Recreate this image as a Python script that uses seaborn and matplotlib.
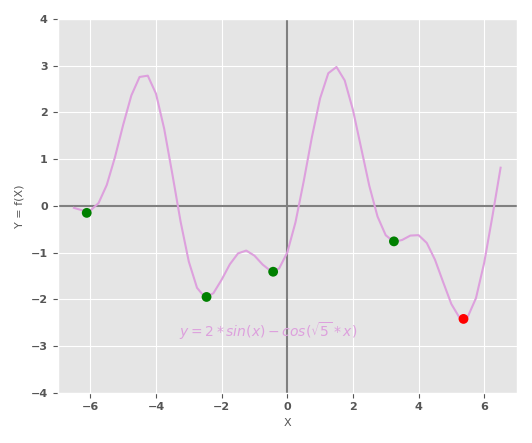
import numpy as np
import matplotlib
matplotlib.use('Agg')
import matplotlib.pyplot as plt
import seaborn as sns

# curve samples of y = 2*sin(x) - cos(sqrt(5)*x), read at 0.25 steps
x_vals = np.arange(-6.5, 6.51, 0.25)
y_vals = [-0.043, -0.095, -0.101, 0.059, 0.447, 1.041, 1.734, 2.365, 2.759, 2.787,
          2.401, 1.650, 0.674, -0.339, -1.193, -1.754, -1.966, -1.869, -1.581, -1.251,
          -1.017, -0.957, -1.066, -1.257, -1.396, -1.343, -1.000, -0.353, 0.522, 1.469,
          2.300, 2.839, 2.973, 2.685, 2.057, 1.243, 0.428, -0.228, -0.629, -0.771,
          -0.730, -0.636, -0.627, -0.793, -1.151, -1.633, -2.102, -2.395, -2.375, -1.975,
          -1.219, -0.227, 0.817]

# local minima
min_x = [-6.11, -2.46, -0.43, 3.25]
min_y = [-0.15, -1.95, -1.41, -0.76]
best_x = [5.37]
best_y = [-2.42]

plt.style.use('ggplot')
fig, ax = plt.subplots(figsize=(5.32, 4.43), dpi=100)

ax.axhline(0, color='gray', lw=1.5)
ax.axvline(0, color='gray', lw=1.5)
sns.lineplot(x=x_vals, y=y_vals, color='plum', lw=1.5, ax=ax)
sns.scatterplot(x=min_x, y=min_y, color='green', s=50, edgecolor='none', zorder=5, ax=ax)
sns.scatterplot(x=best_x, y=best_y, color='red', s=50, edgecolor='none', zorder=5, ax=ax)

ax.text(-3.3, -2.8, r'$y = 2*sin(x) - cos(\sqrt{5}*x)$', color='plum',
        fontsize=10, fontweight='bold', style='italic')

ax.set_xlim(-7, 7)
ax.set_ylim(-4, 4)
ax.set_xticks([-6, -4, -2, 0, 2, 4, 6])
ax.set_xlabel('X', fontsize=8)
ax.set_ylabel('Y = f(X)', fontsize=8)
ax.tick_params(labelsize=8)
for lbl in ax.get_xticklabels() + ax.get_yticklabels():
    lbl.set_fontweight('bold')

plt.tight_layout()
plt.savefig('out.png')
